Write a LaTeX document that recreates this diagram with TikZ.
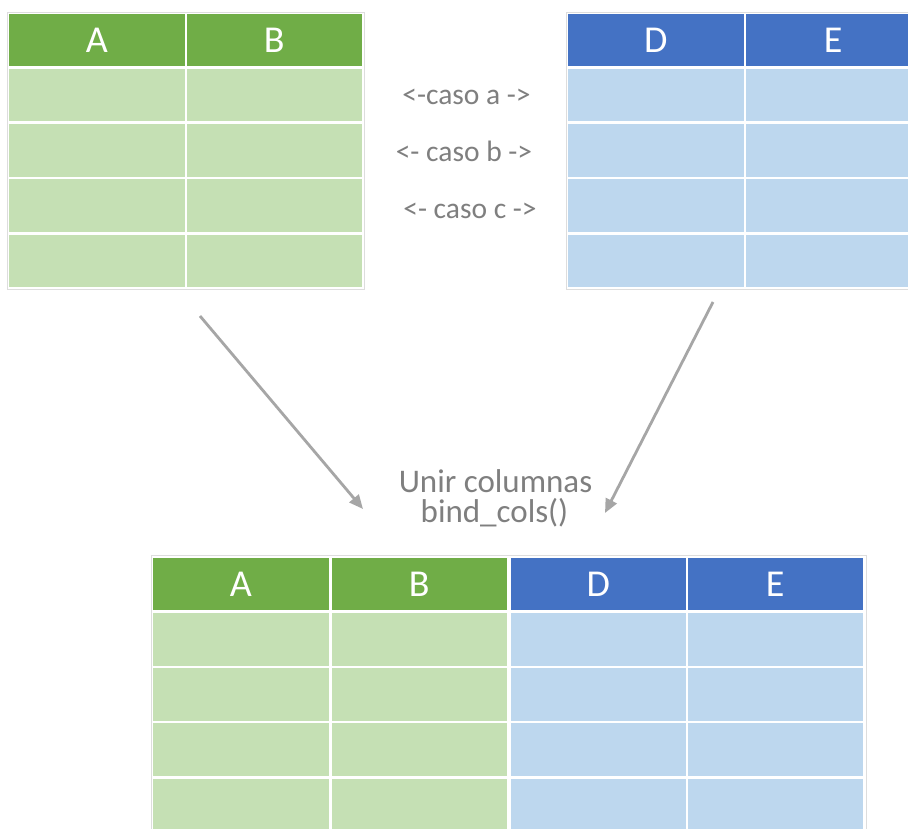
\documentclass[tikz,border=0pt]{standalone}
\usepackage{fontspec}
\setmainfont{Carlito}
\usetikzlibrary{arrows.meta}

\definecolor{hdrgreen}{HTML}{70AD47}
\definecolor{cellgreen}{HTML}{C5E0B4}
\definecolor{hdrblue}{HTML}{4472C4}
\definecolor{cellblue}{HTML}{BDD7EE}
\definecolor{framegray}{HTML}{DDDDDD}
\definecolor{labelgray}{HTML}{7F7F7F}
\definecolor{arrowgray}{HTML}{A6A6A6}

\begin{document}
\begin{tikzpicture}[x=1pt,y=-1pt,
  cellbox/.style={anchor=north west, inner sep=0pt, outer sep=0pt,
    minimum width=175.5pt, minimum height=52.5pt},
  hdrbox/.style={cellbox, minimum height=52pt, text=white,
    font=\fontsize{38}{40}\selectfont},
  hdrG/.style={hdrbox, fill=hdrgreen},
  hdrB/.style={hdrbox, fill=hdrblue},
  cellG/.style={cellbox, fill=cellgreen},
  cellB/.style={cellbox, fill=cellblue},
  tframe/.style={anchor=north west, inner sep=0pt, draw=framegray,
    line width=0.8pt, fill=white},
  caption/.style={anchor=base, text=labelgray, inner sep=0pt},
  casetext/.style={caption, font=\fontsize{29.5}{34}\selectfont},
  jointext/.style={caption, font=\fontsize{33}{30}\selectfont,
    text height=20pt, text depth=3pt},
  link/.style={draw=arrowgray, line width=2.8pt,
    -{Triangle[length=14pt,width=12pt]}}
]
\clip (0,0) rectangle (908,829);
\fill[white] (0,0) rectangle (908,829);

% ---- left source table (A, B)
\node[tframe, minimum width=357pt, minimum height=277pt] (tl-frame) at (7,12) {};
\foreach \c/\xx/\t in {1/9/A, 2/186.5/B}{
  \node[hdrG] (tl-h\c) at (\xx,14) {\t};
  \foreach \r in {1,...,4}
    \node[cellG] (tl-\r\c) at (\xx,{69+55.2*(\r-1)}) {};
}

% ---- right source table (D, E)
\node[tframe, minimum width=357pt, minimum height=277pt] (tr-frame) at (566,12) {};
\foreach \c/\xx/\t in {1/568/D, 2/745.5/E}{
  \node[hdrB] (tr-h\c) at (\xx,14) {\t};
  \foreach \r in {1,...,4}
    \node[cellB] (tr-\r\c) at (\xx,{69+55.2*(\r-1)}) {};
}

% ---- combined result table (A, B, D, E)
\node[tframe, minimum width=715pt, minimum height=300pt] (bt-frame) at (151,555) {};
\foreach \c/\xx/\t/\hs/\cs in {1/153/A/hdrG/cellG, 2/331.5/B/hdrG/cellG,
                               3/510.5/D/hdrB/cellB, 4/687.5/E/hdrB/cellB}{
  \node[\hs] (bt-h\c) at (\xx,558) {\t};
  \foreach \r in {1,...,4}
    \node[\cs] (bt-\r\c) at (\xx,{613+55.2*(\r-1)}) {};
}

% ---- case labels between the source tables
\node[casetext] (case-a) at (466.5,105) {<-caso a ->};
\node[casetext] (case-b) at (464,162) {<- caso b ->};
\node[casetext] (case-c) at (470,219) {<- caso c ->};

% ---- operation label
\node[jointext] (join-1) at (495.5,492) {Unir columnas};
\node[jointext] (join-2) at (494.5,522) {bind\_cols()};

% ---- arrows into the operation
\coordinate (l-start) at (200,316);
\coordinate (l-end) at (363,509);
\coordinate (r-start) at (713,302);
\coordinate (r-end) at (605,513);
\draw[link] (l-start) -- (l-end);
\draw[link] (r-start) -- (r-end);
\end{tikzpicture}
\end{document}
